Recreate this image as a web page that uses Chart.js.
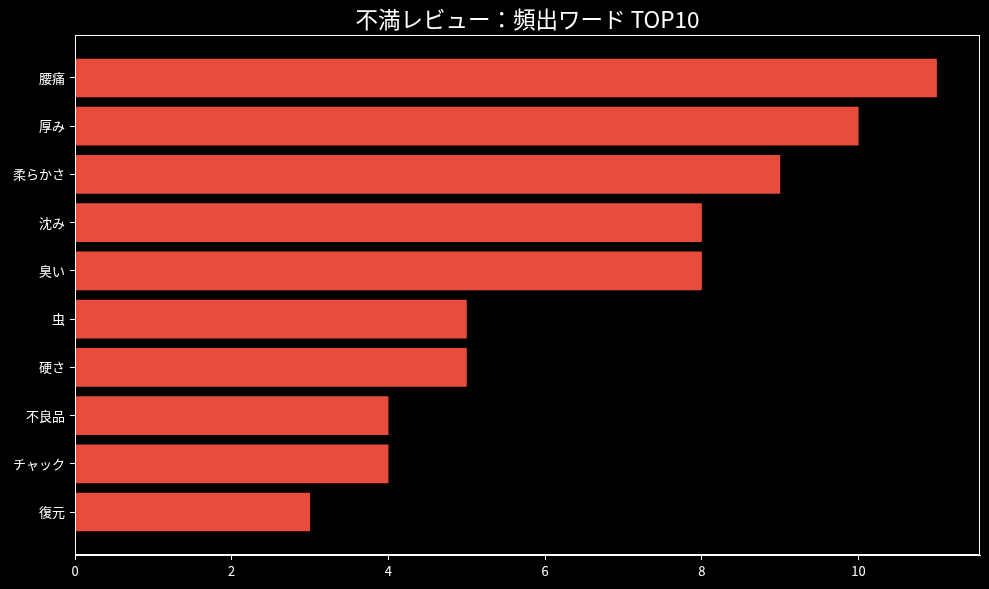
<!DOCTYPE html>
<html>
<head>
<meta charset="utf-8">
<script src="https://cdn.jsdelivr.net/npm/chart.js@4"></script>
<style>
  html, body { margin: 0; padding: 0; background: #000; }
  canvas { display: block; }
</style>
</head>
<body>
<canvas id="chart" width="989" height="589"></canvas>
<script>
// 不満レビューの頻出ワード
var words = ['腰痛', '厚み', '柔らかさ', '沈み', '臭い', '虫', '硬さ', '不良品', 'チャック', '復元'];
var counts = [11, 10, 9, 8, 8, 5, 5, 4, 4, 3];
var xTicks = [0, 2, 4, 6, 8, 10];

var FONT = "'Noto Sans CJK JP', 'Noto Sans', sans-serif";

// 枠線（上下左右）
var frame = {
    id: 'frame',
    afterDraw: function (chart) {
        var a = chart.chartArea, ctx = chart.ctx;
        ctx.save();
        ctx.strokeStyle = '#fff';
        ctx.lineWidth = 1;
        ctx.strokeRect(a.left + 0.5, a.top + 0.5, a.right - a.left - 1, a.bottom - a.top - 1);
        ctx.restore();
    }
};

var points = counts.map(function (v, i) { return { x: v, y: i }; });

new Chart(document.getElementById('chart'), {
    type: 'bar',
    data: {
        datasets: [{
            data: points,
            backgroundColor: '#e74c3c',
            borderWidth: 0,
            barPercentage: 0.8,
            categoryPercentage: 1.0
        }]
    },
    options: {
        indexAxis: 'y',
        responsive: false,
        animation: false,
        devicePixelRatio: 1,
        layout: { padding: { left: 0, right: 9, top: 0, bottom: 0 } },
        plugins: {
            legend: { display: false },
            tooltip: { enabled: false },
            title: {
                display: true,
                fullSize: false,
                text: '不満レビュー：頻出ワード TOP10',
                color: '#fff',
                font: { family: FONT, size: 22.5, weight: 'normal', lineHeight: 1.2 },
                padding: { top: 6, bottom: 2 }
            }
        },
        scales: {
            x: {
                type: 'linear',
                min: 0,
                max: 11.55,
                afterBuildTicks: function (s) { s.ticks = xTicks.map(function (v) { return { value: v }; }); },
                afterFit: function (s) { s.height = 34; },
                grid: { drawOnChartArea: false, color: '#fff', tickLength: 5 },
                border: { color: '#fff' },
                ticks: { color: '#fff', font: { family: FONT, size: 13 }, padding: 3 }
            },
            y: {
                type: 'linear',
                reverse: true,
                offset: false,
                min: -0.89,
                max: 9.89,
                afterBuildTicks: function (s) { s.ticks = words.map(function (w, i) { return { value: i }; }); },
                afterFit: function (s) { s.width = 75; },
                grid: { drawOnChartArea: false, offset: false, color: '#fff', tickLength: 5 },
                border: { color: '#fff' },
                ticks: {
                    color: '#fff',
                    font: { family: FONT, size: 13 },
                    padding: 5,
                    callback: function (v) { return words[v]; }
                }
            }
        }
    },
    plugins: [frame]
});
</script>
</body>
</html>
